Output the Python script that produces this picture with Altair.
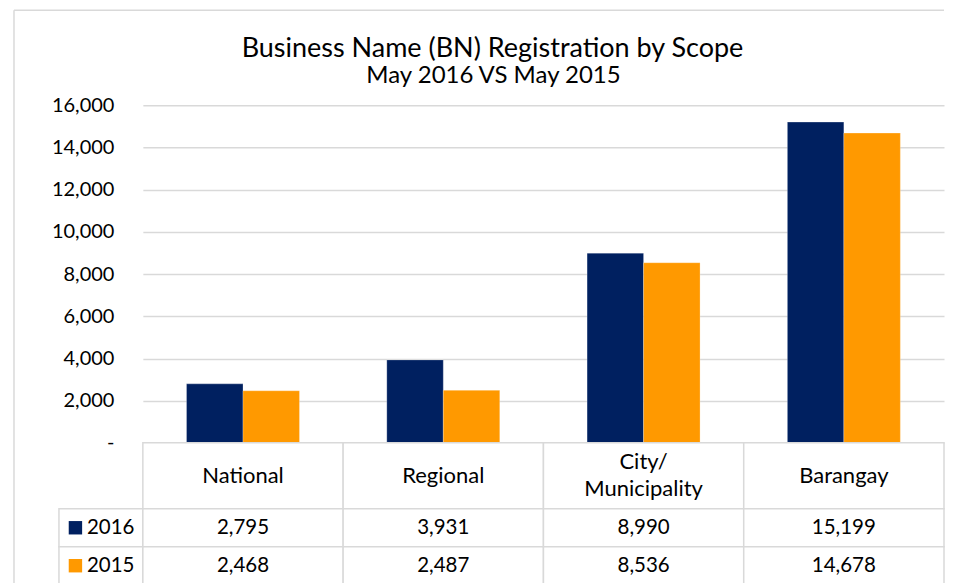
import altair as alt
import pandas as pd

categories = ["National", "Regional", "City/\nMunicipality", "Barangay"]
years = ["2016", "2015"]
values_2016 = [2795, 3931, 8990, 15199]
values_2015 = [2468, 2487, 8536, 14678]
y_ticks = [0, 2000, 4000, 6000, 8000, 10000, 12000, 14000, 16000]
colors = ["#002060", "#FF9900"]
title_text = "Business Name (BN) Registration by Scope"
subtitle_text = "May 2016 VS May 2015"

FONT = "Lato"
GRID = "#d9d9d9"

rows = []
for c, v16, v15 in zip(categories, values_2016, values_2015):
    rows.append({"scope": c, "year": "2016", "value": v16})
    rows.append({"scope": c, "year": "2015", "value": v15})
df = pd.DataFrame(rows)
cat_df = pd.DataFrame({"scope": categories, "multi": ["\n" in c for c in categories]})
year_df = pd.DataFrame({"year": years})
title_df = pd.DataFrame({"t": [title_text]})
subtitle_df = pd.DataFrame({"t": [subtitle_text]})
one = pd.DataFrame({"a": [0]})

W = 802
H_BARS = 338
H_HEAD = 66
ROW_H = 38

color_scale = alt.Scale(domain=years, range=colors)
band0 = alt.Scale(paddingInner=0, paddingOuter=0)

bars = alt.Chart(df).mark_bar(stroke="#ffffff", strokeOpacity=0.25, strokeWidth=1).encode(
    x=alt.X("scope:N", sort=categories,
            scale=alt.Scale(paddingInner=0.436, paddingOuter=0.218), axis=None),
    xOffset=alt.XOffset("year:N", sort=years,
                        scale=alt.Scale(paddingInner=0, paddingOuter=0)),
    y=alt.Y("value:Q", scale=alt.Scale(domain=[0, 16000], nice=False),
            axis=alt.Axis(values=y_ticks, grid=True, gridColor=GRID, gridWidth=1.5,
                          domain=False, ticks=False, labelPadding=29, title=None,
                          labelFont=FONT, labelFontSize=20, labelColor="#000000",
                          labelExpr="datum.value == 0 ? '-\u2007' : format(datum.value, ',')")),
    color=alt.Color("year:N", scale=color_scale, legend=None),
)

border_top = alt.Chart(one).mark_rule(color=GRID, strokeWidth=1.5).encode(
    x=alt.value(-129), x2=alt.value(W), y=alt.value(-95))
border_left = alt.Chart(one).mark_rule(color=GRID, strokeWidth=1.5).encode(
    x=alt.value(-129), y=alt.value(-95), y2=alt.value(H_BARS + H_HEAD + 2 * ROW_H + 10))

title_mark = alt.Chart(title_df).mark_text(
    font=FONT, fontSize=27, color="#000000", baseline="alphabetic"
).encode(x=alt.value(350), y=alt.value(-48), text="t:N")
subtitle_mark = alt.Chart(subtitle_df).mark_text(
    font=FONT, fontSize=24, color="#000000", baseline="alphabetic"
).encode(x=alt.value(351), y=alt.value(-22), text="t:N")

top = alt.layer(border_top, border_left, title_mark, subtitle_mark, bars).properties(width=W, height=H_BARS)

xcat = alt.X("scope:N", sort=categories, scale=band0, axis=None)
head_rect = alt.Chart(cat_df).mark_rect(fill="white", stroke=GRID, strokeWidth=1.5).encode(x=xcat)
head_text1 = alt.Chart(cat_df).transform_filter("!datum.multi").mark_text(
    font=FONT, fontSize=22, color="#000000").encode(x=xcat, text="scope:N")
head_text2 = alt.Chart(cat_df).transform_filter("datum.multi").mark_text(
    font=FONT, fontSize=22, color="#000000", lineBreak="\n", lineHeight=27, dy=-13.5
).encode(x=xcat, text="scope:N")
header = alt.layer(head_rect, head_text1, head_text2).properties(width=W, height=H_HEAD)

yrow = alt.Y("year:N", sort=years, scale=band0, axis=None)
cell_rect = alt.Chart(df).mark_rect(fill="white", stroke=GRID, strokeWidth=1.5).encode(x=xcat, y=yrow)
cell_text = alt.Chart(df).mark_text(font=FONT, fontSize=20.5, color="#000000").encode(
    x=xcat, y=yrow, text=alt.Text("value:Q", format=","))
leg_rect = alt.Chart(year_df).mark_rect(fill="white", stroke=GRID, strokeWidth=1.5).encode(
    x=alt.value(-84), x2=alt.value(0), y=yrow)
leg_sq = alt.Chart(year_df).mark_square(size=180, opacity=1).encode(
    x=alt.value(-67.5), y=yrow,
    color=alt.Color("year:N", scale=color_scale, legend=None))
leg_text = alt.Chart(year_df).mark_text(font=FONT, fontSize=20.5, color="#000000", align="left").encode(
    x=alt.value(-56), y=yrow, text="year:N")
table = alt.layer(leg_rect, cell_rect, cell_text, leg_sq, leg_text).properties(width=W, height=2 * ROW_H)

chart = alt.vconcat(top, header, table, spacing=0, bounds="flush").properties(
    padding={"left": 5, "top": 1, "right": 0, "bottom": 0},
).configure_view(stroke=None).configure_concat(spacing=0)

chart.save("out.html", embed_options={"renderer": "svg", "actions": False})
